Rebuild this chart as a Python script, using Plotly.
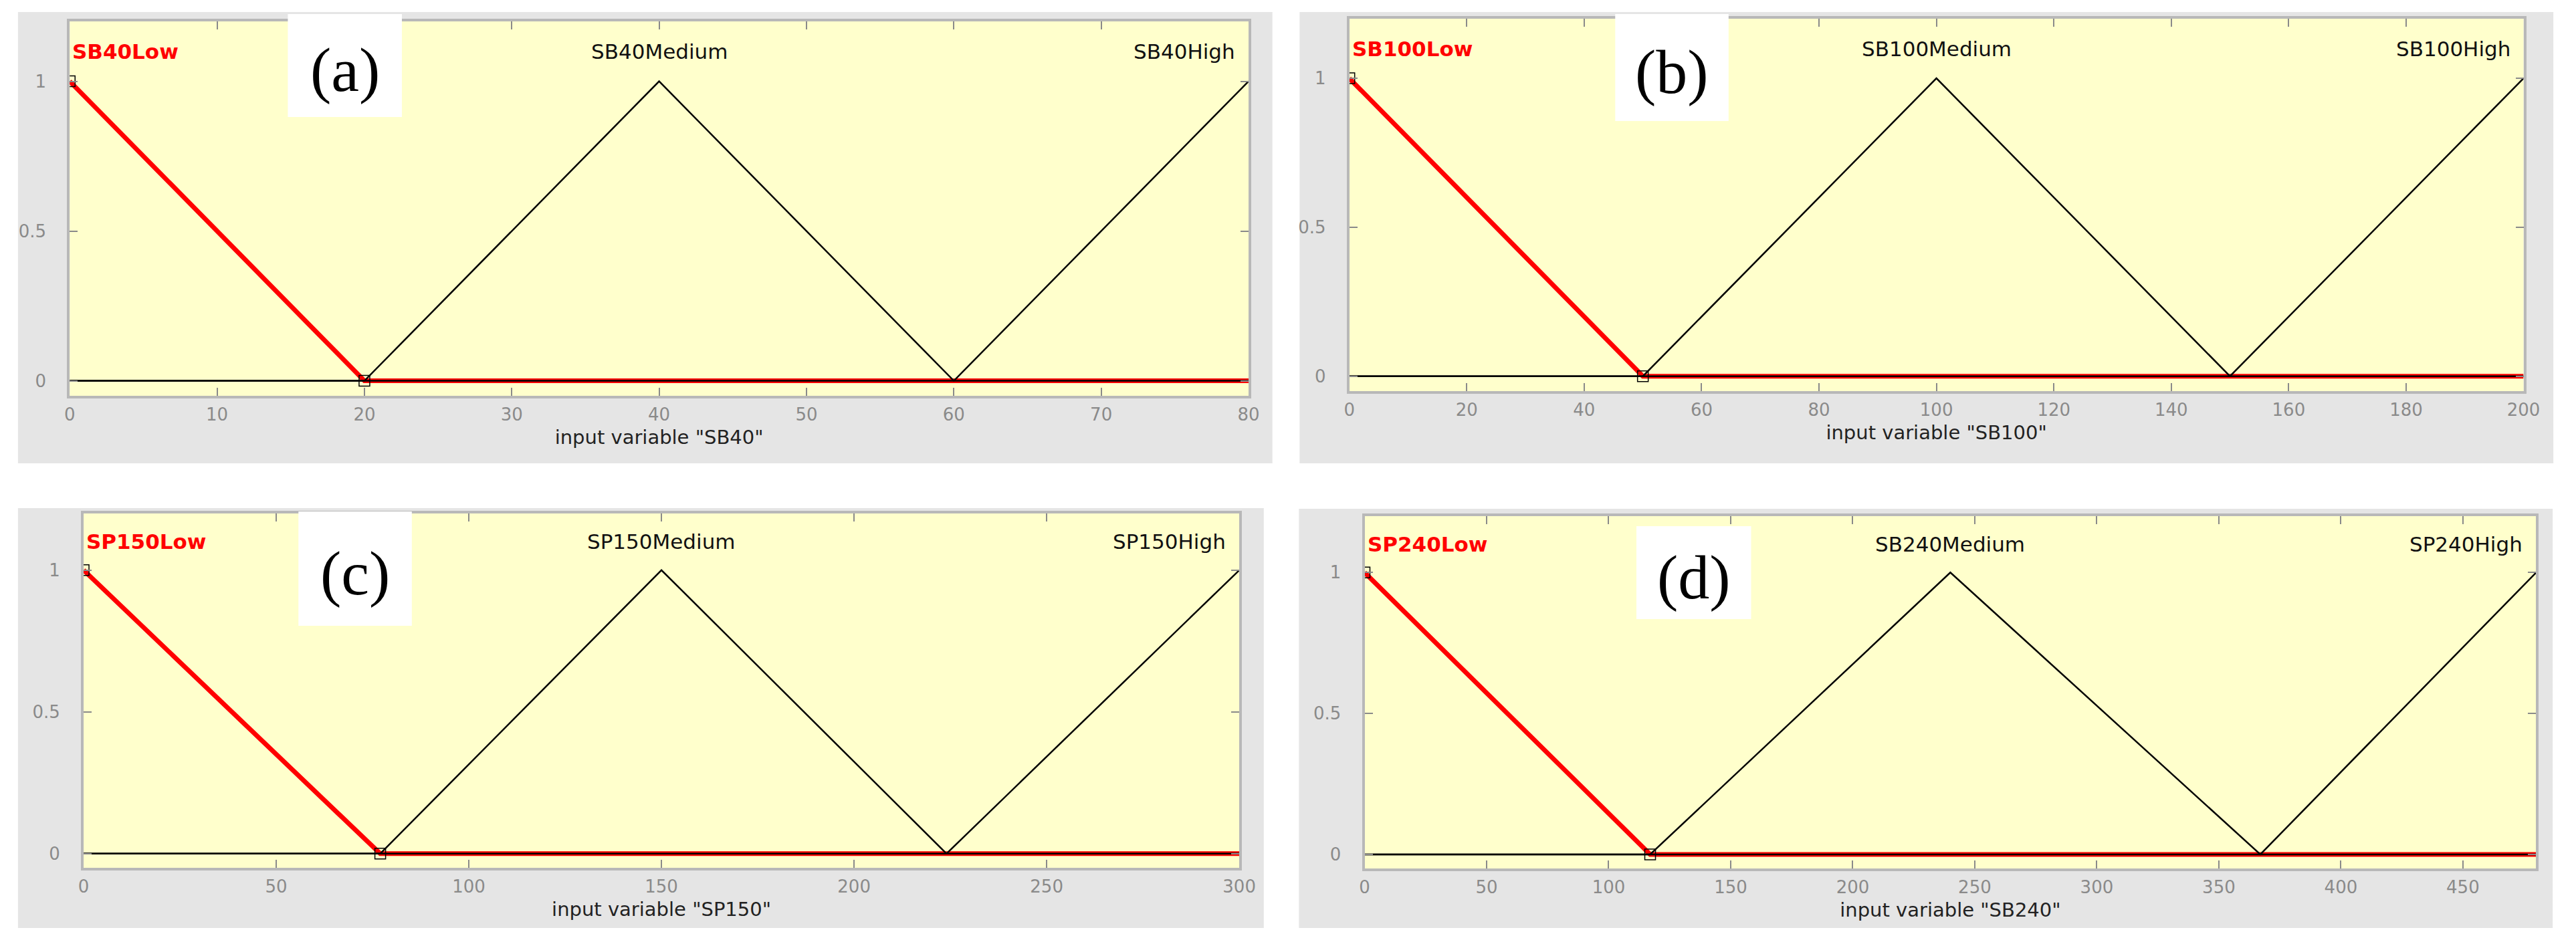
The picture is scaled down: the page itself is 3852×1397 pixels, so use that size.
import plotly.graph_objects as go

W, H = 3852, 1397

# membership function break points
x_max = [80, 200, 300, 480]
low_end = [20, 50, 77, 117]
mid_peak = [40, 100, 150, 240]
mid_end = [60, 150, 224, 367]
x_ticks = [
    [0, 10, 20, 30, 40, 50, 60, 70, 80],
    [0, 20, 40, 60, 80, 100, 120, 140, 160, 180, 200],
    [0, 50, 100, 150, 200, 250, 300],
    [0, 50, 100, 150, 200, 250, 300, 350, 400, 450],
]
y_ticks = [0, 0.5, 1]
y_ticktext = ["0", "0.5", "1"]
low_labels = ["SB40Low", "SB100Low", "SP150Low", "SP240Low"]
mid_labels = ["SB40Medium", "SB100Medium", "SP150Medium", "SB240Medium"]
high_labels = ["SB40High", "SB100High", "SP150High", "SP240High"]
x_titles = ['input variable "SB40"', 'input variable "SB100"',
            'input variable "SP150"', 'input variable "SB240"']
tags = ["(a)", "(b)", "(c)", "(d)"]

# pixel boxes (x0, x1, y0, y1) measured from the top-left corner
plot_px = [(89, 1867, 24, 584), (2019, 3790, 20, 577),
           (110, 1853, 760, 1290), (2042, 3809, 764, 1291)]
panel_px = [(11, 1903, 10, 685), (1944, 3835, 10, 685),
            (11, 1890, 752, 1380), (1943, 3834, 753, 1380)]
tag_px = [(418, 590, 13, 167), (2420, 2591, 13, 173),
          (434, 605, 757, 928), (2452, 2625, 779, 918)]

YELLOW = "#ffffcc"
GRAY = "#e5e5e5"
TICK_GRAY = "#8a8a8a"


def fx(px):
    return px / W


def fy(py):
    return 1 - py / H


fig = go.Figure()
shapes = []
annotations = []

for i in range(4):
    n = str(i + 1) if i else ""
    xa, ya = "x" + n, "y" + n
    xm, le, mp, me = x_max[i], low_end[i], mid_peak[i], mid_end[i]

    # selected MF (red, thick) first, the others drawn over it in black
    fig.add_trace(go.Scatter(x=[0, le, xm], y=[1, 0, 0], mode="lines",
                             line=dict(color="#ff0000", width=7),
                             xaxis=xa, yaxis=ya, showlegend=False))
    fig.add_trace(go.Scatter(x=[0, le, mp, me, xm], y=[0, 0, 1, 0, 0], mode="lines",
                             line=dict(color="#000000", width=2.5),
                             xaxis=xa, yaxis=ya, showlegend=False))
    fig.add_trace(go.Scatter(x=[0, me, xm], y=[0, 0, 1], mode="lines",
                             line=dict(color="#000000", width=2.5),
                             xaxis=xa, yaxis=ya, showlegend=False))
    fig.add_trace(go.Scatter(x=[0, le], y=[1, 0], mode="markers",
                             marker=dict(symbol="square-open", size=16, color="#000000",
                                         line=dict(width=1.5)),
                             xaxis=xa, yaxis=ya, showlegend=False))

    px0, px1, py0, py1 = plot_px[i]
    fig.update_layout({
        "xaxis" + n: dict(
            domain=[fx(px0), fx(px1)], range=[0, xm], anchor=ya,
            tickvals=x_ticks[i], ticks="inside", ticklen=12, tickwidth=2,
            tickcolor=TICK_GRAY, mirror="allticks", showline=True, linewidth=4,
            linecolor="#b8b8b8", showgrid=False, zeroline=False,
            tickfont=dict(family="DejaVu Sans", size=26, color=TICK_GRAY),
            ticklabelstandoff=2,
            title=dict(text=x_titles[i], standoff=10,
                       font=dict(family="DejaVu Sans", size=29, color="#222222")),
        ),
        "yaxis" + n: dict(
            domain=[fy(py1), fy(py0)], range=[-0.05, 1.2], anchor=xa,
            tickvals=y_ticks, ticktext=y_ticktext, ticks="inside", ticklen=12,
            tickwidth=2, tickcolor=TICK_GRAY, mirror="allticks", showline=True,
            linewidth=4, linecolor="#b8b8b8", showgrid=False, zeroline=False,
            tickfont=dict(family="DejaVu Sans", size=26, color=TICK_GRAY),
            ticklabelstandoff=26,
        ),
    })

    gx0, gx1, gy0, gy1 = panel_px[i]
    shapes.append(dict(type="rect", xref="paper", yref="paper", layer="below",
                       x0=fx(gx0), x1=fx(gx1), y0=fy(gy1), y1=fy(gy0),
                       fillcolor=GRAY, line=dict(width=0)))
    shapes.append(dict(type="rect", xref="paper", yref="paper", layer="below",
                       x0=fx(px0), x1=fx(px1), y0=fy(py1), y1=fy(py0),
                       fillcolor=YELLOW, line=dict(width=0)))
    tx0, tx1, ty0, ty1 = tag_px[i]
    shapes.append(dict(type="rect", xref="paper", yref="paper", layer="above",
                       x0=fx(tx0), x1=fx(tx1), y0=fy(ty1), y1=fy(ty0),
                       fillcolor="#ffffff", line=dict(width=0)))

    annotations.append(dict(text=tags[i], xref="paper", yref="paper",
                            x=fx((tx0 + tx1) / 2), y=fy((ty0 + ty1) / 2 + 6),
                            showarrow=False, xanchor="center", yanchor="middle",
                            font=dict(family="Liberation Serif", size=94, color="#000000")))
    annotations.append(dict(text="<b>" + low_labels[i] + "</b>", xref=xa, yref=ya,
                            x=0, y=1.1, xanchor="left", yanchor="middle", xshift=2,
                            showarrow=False,
                            font=dict(family="DejaVu Sans", size=31, color="#ff0000")))
    annotations.append(dict(text=mid_labels[i], xref=xa, yref=ya, x=mp, y=1.1,
                            xanchor="center", yanchor="middle", showarrow=False,
                            font=dict(family="DejaVu Sans", size=31, color="#111111")))
    annotations.append(dict(text=high_labels[i], xref=xa, yref=ya, x=xm, y=1.1,
                            xanchor="right", yanchor="middle", xshift=-18,
                            showarrow=False,
                            font=dict(family="DejaVu Sans", size=31, color="#111111")))

fig.update_layout(
    width=W, height=H, margin=dict(l=0, r=0, t=0, b=0),
    paper_bgcolor="#ffffff", plot_bgcolor="rgba(0,0,0,0)",
    shapes=shapes, annotations=annotations, showlegend=False,
)

fig.write_html("out.html")
